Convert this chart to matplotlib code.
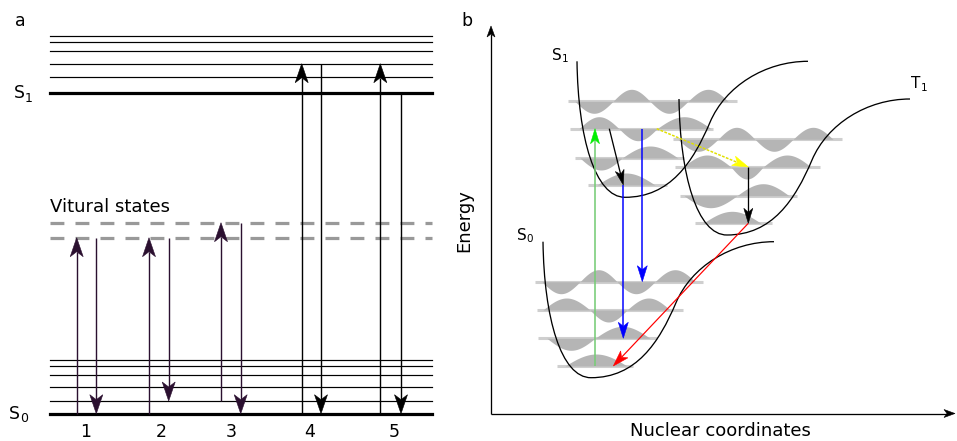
import numpy as np
import matplotlib
matplotlib.use('Agg')
import matplotlib.pyplot as plt
from matplotlib.patches import Polygon
from matplotlib.path import Path
from matplotlib.patches import PathPatch

plt.rcParams['font.family'] = ['DejaVu Sans']
plt.rcParams['lines.scale_dashes'] = False

W, H = 957, 441
PX = 0.72  # one pixel in points at dpi 100

# ---------------- panel a: Jablonski levels ----------------
LEVEL_X = [50, 432]
UPPER_LEVELS = [35.7, 42.3, 51.3, 63.7, 77.3]
S1_LEVEL = 92.7
VIRTUAL_LEVELS = [222.7, 237.7]
LOWER_LEVELS = [360.0, 365.7, 374.7, 387.3, 401.0]
S0_LEVEL = 413.7

PROCESS_LABELS = ['1', '2', '3', '4', '5']
PROCESS_LABEL_X = [86, 161, 231, 310, 394]
UP_X = [76.7, 149, 221, 301.7, 380.3]
UP_FROM = [S0_LEVEL, S0_LEVEL, LOWER_LEVELS[4], S0_LEVEL, S0_LEVEL]
UP_TO = [VIRTUAL_LEVELS[1], VIRTUAL_LEVELS[1], VIRTUAL_LEVELS[0], UPPER_LEVELS[3], UPPER_LEVELS[3]]
DOWN_X = [96.3, 168.7, 240.7, 321, 401]
DOWN_FROM = [VIRTUAL_LEVELS[1], VIRTUAL_LEVELS[1], VIRTUAL_LEVELS[0], UPPER_LEVELS[3], S1_LEVEL]
DOWN_TO = [S0_LEVEL, LOWER_LEVELS[4], S0_LEVEL, S0_LEVEL, S0_LEVEL]
PROCESS_COLORS = ['#2b1030', '#2b1030', '#2b1030', 'black', 'black']

# ---------------- panel b: potential curves ----------------
AXIS_ORIGIN = (491, 413.5)
AXIS_TOP = 26
AXIS_RIGHT = 955

# minima (x, y) of the three potential wells
WELL_MIN = {'S0': (591, 377.7), 'S1': (625, 197.3), 'T1': (727, 235.0)}
# Morse-like well outline relative to its minimum: (dx, height) bezier nodes
WELL_SHAPE = [(-48, 136), (-47, 60), (-30, 0), (0, 0),
              (45, 0), (68, 35), (85, 75),
              (100.3, 111), (140, 136), (183, 136)]

# vibrational levels: baseline y, lobe boundaries, baseline extent
VIB_S0_Y = [366.0, 338.3, 310.0, 281.7]
VIB_S0_EDGES = [[565, 627], [547, 595, 650], [543, 590, 627, 670], [542, 580, 617, 655, 695]]
VIB_S0_SPAN = [[557, 633], [538, 657], [537, 683], [535, 703]]
VIB_S1_Y = [185.0, 158.0, 128.7, 101.3]
VIB_S1_EDGES = [[597, 655], [580, 622, 678], [579, 619, 657, 711], [575, 613, 650, 688, 728]]
VIB_S1_SPAN = [[588, 667], [575, 684], [570, 713], [568, 737]]
VIB_T1_Y = [223.3, 195.7, 167.0, 139.3]
VIB_T1_EDGES = [[703, 761], [684, 737, 789], [683, 731, 763, 811], [678, 718, 755, 793, 833]]
VIB_T1_SPAN = [[695, 772], [680, 797], [675, 820], [673, 842]]
LOBE_AMP = 12

# transitions in panel b: (start, end)
ABSORB = ((595, VIB_S0_Y[0]), (595, VIB_S1_Y[2]))
RELAX_S1 = ((609.3, VIB_S1_Y[2]), (623.3, VIB_S1_Y[0]))
FLUOR_1 = ((623.3, VIB_S1_Y[0]), (623.3, VIB_S0_Y[1]))
FLUOR_2 = ((642.3, VIB_S1_Y[2]), (642.3, VIB_S0_Y[3]))
ISC = ((656.7, VIB_S1_Y[2]), (748.3, VIB_T1_Y[2]))
RELAX_T1 = ((748.3, VIB_T1_Y[2]), (748.3, VIB_T1_Y[0]))
PHOSPH = ((748.3, VIB_T1_Y[0]), (613.3, VIB_S0_Y[0]))


def arrow(ax, p0, p1, color, lw=1.0, head_len=19, head_w=13, notch=5,
          shaft_color=None, dashes=None, z=5):
    """Line with a concave (stealth) arrowhead, in pixel space."""
    (x0, y0), (x1, y1) = p0, p1
    length = np.hypot(x1 - x0, y1 - y0)
    ux, uy = (x1 - x0) / length, (y1 - y0) / length
    px, py = -uy, ux
    bx, by = x1 - ux * head_len, y1 - uy * head_len
    nx, ny = x1 - ux * (head_len - notch), y1 - uy * (head_len - notch)
    kw = dict(color=shaft_color or color, lw=lw, solid_capstyle='butt', zorder=z)
    if dashes is not None:
        kw['dashes'] = dashes
    ax.plot([x0, nx], [y0, ny], **kw)
    pts = [(x1, y1), (bx + px * head_w / 2, by + py * head_w / 2), (nx, ny),
           (bx - px * head_w / 2, by - py * head_w / 2)]
    ax.add_patch(Polygon(pts, closed=True, fc=color, ec=color, lw=0.4, zorder=z + 0.1))


def state_label(ax, x, y, letter, sub, size, sub_size, dx, dy):
    ax.text(x, y, letter, fontsize=size, ha='left', va='center')
    ax.text(x + dx, y + dy, sub, fontsize=sub_size, ha='left', va='center')


def draw_well(ax, name):
    x0, y0 = WELL_MIN[name]
    verts = [(x0 + dx, y0 - h) for dx, h in WELL_SHAPE]
    codes = [Path.MOVETO] + [Path.CURVE4] * (len(verts) - 1)
    ax.add_patch(PathPatch(Path(verts, codes), fc='none', ec='black',
                           lw=1.0 * PX * 1.3, zorder=3))


def draw_vibrations(ax, ys, edges, spans):
    for y, lobes, span in zip(ys, edges, spans):
        ax.plot(span, [y, y], color='#cfcfcf', lw=2.2, solid_capstyle='butt', zorder=1)
        n = len(lobes) - 1
        for i in range(n):
            sign = 1 if (n - 1 - i) % 2 == 0 else -1
            xs = np.linspace(lobes[i], lobes[i + 1], 40)
            bump = LOBE_AMP * np.sin(np.pi * (xs - lobes[i]) / (lobes[i + 1] - lobes[i]))
            ax.fill_between(xs, y, y - sign * bump, color='#b5b5b5', lw=0, zorder=1.5)


fig = plt.figure(figsize=(W / 100, H / 100), dpi=100)
ax = fig.add_axes([0, 0, 1, 1])
ax.set_xlim(0, W)
ax.set_ylim(H, 0)
ax.axis('off')

# ---- panel a ----
ax.text(20, 21, 'a', fontsize=12.5, ha='center', va='center')
for y in UPPER_LEVELS + LOWER_LEVELS:
    ax.plot(LEVEL_X, [y, y], color='black', lw=1.2 * PX, zorder=2)
for y in (S1_LEVEL, S0_LEVEL):
    ax.plot(LEVEL_X, [y, y], color='black', lw=3.2 * PX, zorder=2)
for y in VIRTUAL_LEVELS:
    ax.plot(LEVEL_X, [y, y], color='#999999', lw=3.2 * PX, dashes=(10, 8), zorder=2)
ax.text(50, 207, 'Vitural states', fontsize=13, ha='left', va='center')
state_label(ax, 14, 93, 'S', '1', 12.5, 9, 11, 5)
state_label(ax, 9, 414, 'S', '0', 12.5, 9, 11, 4)

for i in range(len(PROCESS_LABELS)):
    c = PROCESS_COLORS[i]
    arrow(ax, (UP_X[i], UP_FROM[i]), (UP_X[i], UP_TO[i]), c, lw=1.4 * PX)
    arrow(ax, (DOWN_X[i], DOWN_FROM[i]), (DOWN_X[i], DOWN_TO[i]), c, lw=1.4 * PX)
    ax.text(PROCESS_LABEL_X[i], 432, PROCESS_LABELS[i], fontsize=12.5, ha='center', va='center')

# ---- panel b ----
ax.text(467, 21, 'b', fontsize=12.5, ha='center', va='center')
ox, oy = AXIS_ORIGIN
arrow(ax, (ox, oy), (ox, AXIS_TOP), 'black', lw=1.3 * PX, head_len=11, head_w=8, notch=3)
arrow(ax, (ox, oy), (AXIS_RIGHT, oy), 'black', lw=1.3 * PX, head_len=11, head_w=8, notch=3)
ax.text(464, 221, 'Energy', fontsize=13, rotation=90, ha='center', va='center')
ax.text(720, 431, 'Nuclear coordinates', fontsize=13, ha='center', va='center')

draw_vibrations(ax, VIB_S0_Y, VIB_S0_EDGES, VIB_S0_SPAN)
draw_vibrations(ax, VIB_S1_Y, VIB_S1_EDGES, VIB_S1_SPAN)
draw_vibrations(ax, VIB_T1_Y, VIB_T1_EDGES, VIB_T1_SPAN)
for name in WELL_MIN:
    draw_well(ax, name)

state_label(ax, 552, 55, 'S', '1', 11, 7.5, 9.5, 4)
state_label(ax, 911, 84, 'T', '1', 11, 7.5, 9.5, 4)
state_label(ax, 517, 236, 'S', '0', 11, 7.5, 9.5, 3)

small = dict(head_len=15, head_w=9, notch=4)
arrow(ax, *ABSORB, '#00ee00', lw=1.6 * PX, shaft_color='#77cc77', **small)
arrow(ax, *RELAX_S1, 'black', lw=1.3 * PX, **small)
arrow(ax, *FLUOR_1, '#0000ff', lw=1.5 * PX, head_len=16, head_w=10, notch=4)
arrow(ax, *FLUOR_2, '#0000ff', lw=1.5 * PX, head_len=16, head_w=10, notch=4)
arrow(ax, *ISC, '#ffff00', lw=1.5 * PX, shaft_color='#e0e000', dashes=(2, 1),
      head_len=16, head_w=10, notch=4)
arrow(ax, *RELAX_T1, 'black', lw=1.3 * PX, **small)
arrow(ax, *PHOSPH, '#ff0000', lw=1.2 * PX, head_len=16, head_w=10, notch=4)

fig.savefig('out.png', dpi=100)
